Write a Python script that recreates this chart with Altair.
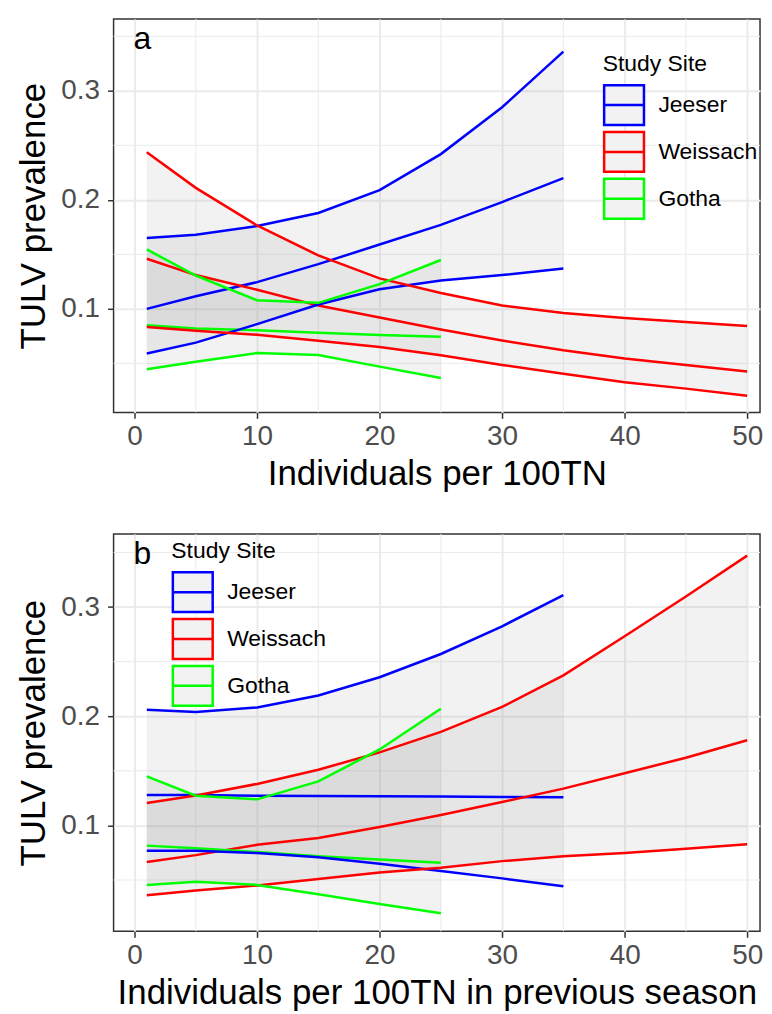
import altair as alt
import pandas as pd

sites = ["Jeeser", "Weissach", "Gotha"]
site_colors = ["#0000ff", "#ff0000", "#00ff00"]

x_jeeser = [1, 5, 10, 15, 20, 25, 30, 35]
x_weissach = [1, 5, 10, 15, 20, 25, 30, 35, 40, 45, 50]
x_gotha = [1, 5, 10, 15, 20, 25]

# Panel a: current season
a_jeeser_mean = [0.100, 0.1115, 0.1245, 0.141, 0.159, 0.177, 0.198, 0.220]
a_jeeser_lower = [0.059, 0.069, 0.086, 0.104, 0.118, 0.126, 0.131, 0.137]
a_jeeser_upper = [0.165, 0.168, 0.176, 0.188, 0.209, 0.242, 0.285, 0.336]
a_weissach_mean = [0.146, 0.131, 0.1176, 0.103, 0.092, 0.081, 0.071, 0.062, 0.0545, 0.0485, 0.0426]
a_weissach_lower = [0.0833, 0.080, 0.0762, 0.0708, 0.0649, 0.0574, 0.0485, 0.0405, 0.0327, 0.0268, 0.0202]
a_weissach_upper = [0.2436, 0.211, 0.1765, 0.149, 0.128, 0.1145, 0.103, 0.0962, 0.0917, 0.088, 0.0842]
a_gotha_mean = [0.085, 0.082, 0.0804, 0.078, 0.0759, 0.0744]
a_gotha_lower = [0.0446, 0.0515, 0.0595, 0.0577, 0.047, 0.0366]
a_gotha_upper = [0.1545, 0.1306, 0.1079, 0.1055, 0.1227, 0.1448]

# Panel b: previous season
b_jeeser_mean = [0.1278, 0.1278, 0.1272, 0.127, 0.1268, 0.1266, 0.126, 0.1257]
b_jeeser_lower = [0.0768, 0.0768, 0.0747, 0.0708, 0.0649, 0.0583, 0.0515, 0.0443]
b_jeeser_upper = [0.2060, 0.2038, 0.208, 0.219, 0.2357, 0.257, 0.2824, 0.311]
b_weissach_mean = [0.0665, 0.0728, 0.0822, 0.0885, 0.0985, 0.1095, 0.1215, 0.1337, 0.1478, 0.162, 0.178]
b_weissach_lower = [0.036, 0.0405, 0.045, 0.0509, 0.0568, 0.0613, 0.0673, 0.0717, 0.0747, 0.0786, 0.0827]
b_weissach_upper = [0.1206, 0.1274, 0.138, 0.151, 0.1669, 0.1857, 0.2086, 0.2375, 0.2733, 0.3097, 0.3471]
b_gotha_mean = [0.0815, 0.0792, 0.0756, 0.0717, 0.0688, 0.0658]
b_gotha_lower = [0.0455, 0.0485, 0.0455, 0.0369, 0.028, 0.0196]
b_gotha_upper = [0.145, 0.1272, 0.1239, 0.1403, 0.1696, 0.2069]

x_ticks = [0, 10, 20, 30, 40, 50]
x_minor = [5, 15, 25, 35, 45]
y_ticks = [0.1, 0.2, 0.3]
y_minor = [0.05, 0.15, 0.25, 0.35]

FONT = "Liberation Sans"


def build_df(series):
    rows = []
    for site, xs, mean, lower, upper in series:
        for i, xv in enumerate(xs):
            rows.append({"site": site, "x": xv, "mean": mean[i],
                         "lower": lower[i], "upper": upper[i]})
    return pd.DataFrame(rows)


df_a = build_df([
    ("Jeeser", x_jeeser, a_jeeser_mean, a_jeeser_lower, a_jeeser_upper),
    ("Weissach", x_weissach, a_weissach_mean, a_weissach_lower, a_weissach_upper),
    ("Gotha", x_gotha, a_gotha_mean, a_gotha_lower, a_gotha_upper),
])
df_b = build_df([
    ("Jeeser", x_jeeser, b_jeeser_mean, b_jeeser_lower, b_jeeser_upper),
    ("Weissach", x_weissach, b_weissach_mean, b_weissach_lower, b_weissach_upper),
    ("Gotha", x_gotha, b_gotha_mean, b_gotha_lower, b_gotha_upper),
])

LEGEND_PATH = "M-1,-1H1V1H-1Z M-1,0H1"


def panel(df, ydomain, height, xtitle, letter, legend_x, legend_y):
    xscale = alt.Scale(domain=[-1.71, 51.05], nice=False, zero=False)
    yscale = alt.Scale(domain=ydomain, nice=False, zero=False)
    xaxis = alt.Axis(values=x_ticks, title=xtitle, format="d")
    yaxis = alt.Axis(values=y_ticks, title="TULV prevalence", format=".1f",
                     labelPadding=8, titlePadding=9)

    def X(f):
        return alt.X(f, type="quantitative", scale=xscale, axis=xaxis)

    def Y(f):
        return alt.Y(f, type="quantitative", scale=yscale, axis=yaxis)

    minx = alt.Chart(pd.DataFrame({"x": x_minor})).mark_rule(
        color="#ebebeb", strokeWidth=1
    ).encode(x=X("x"))
    miny = alt.Chart(pd.DataFrame({"y": [v for v in y_minor if ydomain[0] < v < ydomain[1]]})).mark_rule(
        color="#ebebeb", strokeWidth=1
    ).encode(y=Y("y"))

    ribbon = alt.Chart(df).mark_area(color="#808080", opacity=0.1).encode(
        x=X("x"), y=Y("lower"), y2="upper", detail="site:N"
    )

    long = df.melt(id_vars=["site", "x"], value_vars=["mean", "lower", "upper"],
                   var_name="kind", value_name="value")
    lines = alt.Chart(long).mark_line(strokeWidth=2.5).encode(
        x=X("x"),
        y=Y("value"),
        stroke=alt.Stroke(
            "site:N",
            scale=alt.Scale(domain=sites, range=site_colors),
            legend=alt.Legend(
                title="Study Site",
                orient="none",
                legendX=legend_x,
                legendY=legend_y,
                symbolType=LEGEND_PATH,
                symbolSize=1600,
                symbolStrokeWidth=2.5,
                symbolFillColor="#f2f2f2",
                labelFontSize=23,
                titleFontSize=23,
                titleFontWeight="normal",
                titleColor="black",
                labelColor="black",
                labelOffset=13,
                rowPadding=-7,
                titlePadding=8,
                labelFont=FONT,
                titleFont=FONT,
            ),
        ),
        detail="kind:N",
    )

    txt = alt.Chart(pd.DataFrame({"t": [letter]})).mark_text(
        fontSize=32, align="center", baseline="middle", font=FONT, color="black"
    ).encode(text="t:N", x=alt.value(29), y=alt.value(20))

    return alt.layer(minx, miny, ribbon, lines, txt).properties(width=649, height=height)


pa = panel(df_a, [0.005, 0.366], 395, "Individuals per 100TN", "a", 491, 34)
pb = panel(df_b, [0.003, 0.367], 399, "Individuals per 100TN in previous season", "b", 58, 6)

chart = alt.vconcat(pa, pb, spacing=40).resolve_legend(
    stroke="independent"
).resolve_scale(y="independent", x="independent").properties(
    padding={"left": 8, "top": 7, "right": 0, "bottom": 0}
).configure(
    font=FONT
).configure_view(
    stroke="#333333", strokeWidth=1.5
).configure_axis(
    grid=True,
    gridColor="#ebebeb",
    gridWidth=2,
    domain=False,
    tickColor="#333333",
    tickWidth=1.5,
    tickSize=6,
    labelColor="#4d4d4d",
    labelFontSize=28,
    labelFont=FONT,
    titleFont=FONT,
    titleFontSize=35,
    titleFontWeight="normal",
    titleColor="black",
    labelPadding=4,
    titlePadding=6,
)

chart.save("out.html", embed_options={"renderer": "svg", "actions": False})
